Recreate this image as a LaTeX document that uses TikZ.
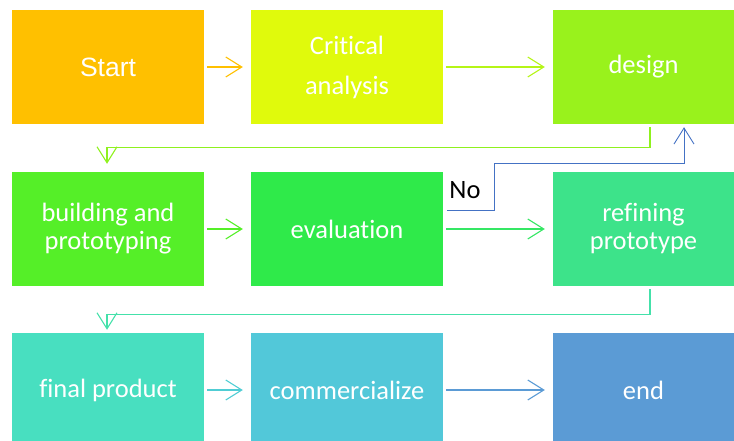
\documentclass[tikz,border=0pt]{standalone}
\usepackage{fontspec}
\setmainfont{Carlito}[Ligatures=NoCommon]
\newfontfamily\arialfont{Liberation Sans}
\usetikzlibrary{arrows.meta, positioning, calc}

\definecolor{cStart}{HTML}{FFC000}
\definecolor{cCrit}{HTML}{E0FA0C}
\definecolor{cDesign}{HTML}{99F21C}
\definecolor{cBuild}{HTML}{55EF28}
\definecolor{cEval}{HTML}{2FEA4A}
\definecolor{cRefine}{HTML}{3DE38A}
\definecolor{cFinal}{HTML}{48DFC0}
\definecolor{cComm}{HTML}{52C8D9}
\definecolor{cEnd}{HTML}{5B9BD5}
\definecolor{cNo}{HTML}{4472C4}

\begin{document}
\begin{tikzpicture}[
  x=1pt, y=-1pt,
  box/.style={inner sep=0pt, minimum width=192pt, minimum height=114pt,
              text=white, align=center,
              font=\fontsize{26.5}{28}\selectfont},
  arr/.style={-{Straight Barb[length=16pt,width=20pt]}, line width=1.1pt,
              shorten <=3pt, shorten >=8pt},
  lbl/.style={inner sep=0pt, font=\fontsize{26.5}{28}\selectfont},
]
\useasboundingbox (0,0) rectangle (734,441);

% Row 1
\node[box, fill=cStart] (start) at (108, 67) {\arialfont Start};
\node[box, fill=cCrit]  (crit)  at (347, 67) {Critical\\[12pt]analysis};
\node[box, fill=cDesign, minimum width=181pt] (design) at (643.5, 67) {design};

% Row 2
\node[box, fill=cBuild]  (build)  at (108, 229) {building and\\prototyping};
\node[box, fill=cEval]   (eval)   at (347, 229) {evaluation};
\node[box, fill=cRefine, minimum width=181pt] (refine) at (643.5, 229) {refining\\prototype};

% Row 3
\node[box, fill=cFinal] (final) at (108, 390) {final product};
\node[box, fill=cComm]  (comm)  at (347, 390) {commercialize};
\node[box, fill=cEnd, minimum width=181pt] (end) at (643.5, 390) {end};

% Bend points
\coordinate (nobend) at (494, 163);

% Edges
\draw[arr, cStart]         (start) -- (crit);
\draw[arr, cDesign!60!cCrit] (crit) -- (design);
\draw[arr, cDesign!85!cBuild] ([xshift=6.5pt]design.south) -- ++(0,23)
                           -| ([xshift=-1pt]build.north);
\draw[arr, cBuild]         (build) -- (eval);
\draw[arr, cEval!60!cRefine] (eval) -- (refine);
\draw[arr, cNo, line width=0.9pt, shorten <=4pt, shorten >=3pt]
  ([yshift=19pt]eval.east) -| (nobend) -| ([xshift=40.5pt]design.south);
\draw[arr, cRefine!40!cFinal, shorten >=3pt] ([xshift=6.5pt]refine.south) -- ++(0,28)
                           -| ([xshift=-1pt]final.north);
\draw[arr, cComm!80!cFinal] (final) -- (comm);
\draw[arr, cEnd]           (comm) -- (end);

% Label
\node[lbl] (no) at (465, 190) {No};
\end{tikzpicture}
\end{document}
